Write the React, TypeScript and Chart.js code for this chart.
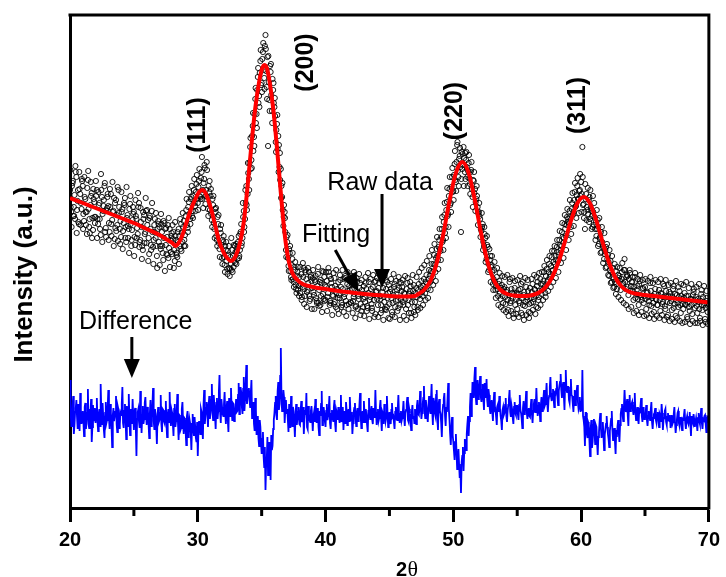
import React, { useEffect, useRef } from "react";
import { Chart, registerables } from "chart.js";
Chart.register(...registerables);

// 2θ grid of the raw scan: set A at 20.000 + 0.1 i, set C at 20.025 + 0.1 i, set B at 20.050 + 0.1 i
const scanStartA = 20;
const scanStartC = 20.025;
const scanStartB = 20.05;
const scanStep = 0.1;
const majorTicks = [20, 30, 40, 50, 60, 70];
const minorTicks = [25, 35, 45, 55, 65];

// Raw data (a.u.), set A
const rawIntensityA = [
  318, 296, 325, 301, 289, 331, 307, 284, 314, 299,
  322, 287, 309, 296, 328, 281, 303, 315, 278, 306,
  291, 318, 284, 305, 273, 311, 297, 322, 280, 300,
  302, 276, 314, 288, 297, 269, 308, 283, 318, 279,
  271, 299, 285, 310, 266, 293, 279, 304, 262, 288,
  296, 263, 289, 274, 305, 268, 281, 258, 293, 276,
  265, 288, 254, 279, 297, 261, 283, 270, 252, 287,
  281, 259, 276, 248, 285, 263, 271, 250, 279, 256,
  254, 276, 247, 268, 251, 279, 262, 284, 266, 287,
  273, 298, 280, 306, 289, 311, 297, 318, 302, 324,
  305, 327, 311, 336, 318, 329, 304, 346, 299, 316,
  312, 288, 303, 279, 296, 268, 284, 259, 275, 250,
  266, 243, 258, 239, 253, 232, 244, 258, 241, 262,
  264, 249, 272, 258, 284, 270, 297, 289, 322, 314,
  329, 361, 348, 382, 371, 409, 394, 431, 412, 447,
  425, 456, 430, 473, 421, 362, 408, 436, 397, 418,
  401, 366, 384, 372, 341, 339, 311, 282, 296, 258,
  266, 242, 255, 231, 249, 226, 238, 219, 236, 222,
  215, 234, 221, 240, 212, 229, 218, 236, 209, 227,
  230, 213, 226, 207, 234, 218, 203, 225, 214, 231,
  208, 227, 215, 232, 205, 221, 212, 230, 201, 219,
  226, 210, 221, 203, 229, 214, 207, 224, 199, 218,
  205, 223, 211, 228, 202, 216, 209, 225, 197, 214,
  222, 206, 219, 200, 226, 211, 204, 221, 208, 194,
  217, 203, 225, 209, 198, 220, 206, 228, 201, 215,
  204, 219, 196, 213, 224, 207, 218, 200, 226, 209,
  221, 203, 214, 199, 225, 208, 217, 195, 212, 223,
  206, 220, 201, 224, 209, 227, 212, 229, 215, 233,
  219, 238, 226, 244, 231, 253, 236, 259, 248, 268,
  257, 279, 268, 293, 281, 306, 294, 319, 305, 331,
  317, 344, 326, 363, 331, 352, 276, 339, 361, 336,
  348, 331, 345, 324, 338, 311, 327, 319, 309, 301,
  296, 289, 277, 284, 262, 270, 249, 261, 238, 252,
  243, 224, 238, 218, 231, 212, 227, 209, 223, 205,
  221, 204, 218, 198, 226, 207, 215, 194, 220, 209,
  199, 218, 205, 224, 193, 213, 202, 221, 208, 196,
  220, 205, 224, 209, 218, 201, 226, 211, 229, 214,
  224, 236, 215, 239, 228, 244, 234, 251, 238, 257,
  252, 261, 247, 268, 258, 276, 265, 284, 272, 291,
  289, 297, 281, 305, 296, 316, 302, 322, 309, 318,
  326, 361, 304, 279, 314, 298, 308, 289, 297, 281,
  283, 279, 272, 288, 264, 271, 256, 262, 249, 258,
  241, 253, 232, 247, 226, 240, 221, 237, 219, 233,
  232, 218, 236, 225, 249, 219, 233, 213, 238, 222,
  226, 208, 231, 214, 222, 203, 227, 211, 219, 205,
  221, 199, 216, 207, 225, 202, 212, 196, 219, 208,
  203, 218, 197, 214, 206, 222, 199, 211, 193, 216,
  214, 198, 219, 204, 192, 213, 201, 217, 195, 209,
  199, 215, 203, 191, 212, 197, 209, 194, 216, 200,
  211, 195, 206, 190, 214, 198, 203, 189, 210, 196,
  204,
];

// Raw data (a.u.), set B
const rawIntensityB = [
  301, 322, 292, 313, 336, 298, 286, 319, 305, 327,
  294, 311, 283, 320, 299, 275, 312, 290, 309, 285,
  312, 289, 303, 279, 318, 294, 308, 276, 297, 314,
  285, 301, 272, 296, 310, 280, 293, 267, 301, 287,
  296, 277, 303, 281, 290, 270, 299, 284, 278, 294,
  271, 292, 280, 301, 266, 286, 262, 289, 274, 297,
  283, 270, 292, 258, 276, 268, 289, 262, 279, 266,
  262, 284, 255, 270, 279, 254, 283, 260, 268, 275,
  269, 258, 272, 255, 266, 272, 259, 275, 281, 268,
  292, 283, 301, 294, 309, 292, 312, 305, 316, 309,
  321, 312, 330, 309, 325, 340, 318, 311, 322, 298,
  294, 309, 285, 299, 272, 291, 265, 279, 263, 268,
  251, 262, 247, 257, 240, 251, 238, 252, 247, 256,
  256, 266, 252, 276, 265, 291, 281, 305, 298, 335,
  345, 339, 372, 357, 394, 385, 418, 405, 435, 423,
  449, 438, 462, 437, 451, 426, 442, 413, 429, 405,
  392, 378, 359, 363, 328, 322, 298, 303, 276, 271,
  250, 259, 237, 243, 229, 241, 223, 232, 218, 231,
  224, 211, 231, 219, 238, 216, 225, 207, 233, 220,
  216, 228, 210, 222, 205, 226, 212, 237, 209, 223,
  221, 211, 236, 207, 225, 213, 204, 222, 215, 210,
  213, 228, 205, 219, 211, 232, 203, 217, 222, 206,
  219, 207, 214, 201, 226, 212, 220, 204, 218, 209,
  211, 225, 202, 215, 208, 219, 197, 213, 226, 216,
  209, 220, 212, 203, 216, 211, 199, 219, 210, 223,
  216, 210, 205, 221, 201, 214, 208, 220, 203, 217,
  206, 215, 209, 219, 203, 214, 222, 206, 217, 201,
  215, 211, 218, 213, 221, 216, 222, 219, 226, 224,
  229, 232, 237, 236, 244, 243, 250, 252, 261, 259,
  271, 266, 286, 275, 298, 292, 312, 303, 321, 316,
  333, 328, 346, 337, 349, 341, 356, 343, 350, 329,
  341, 337, 330, 336, 319, 328, 315, 306, 312, 295,
  292, 279, 281, 266, 274, 255, 263, 244, 248, 241,
  236, 229, 226, 222, 219, 224, 215, 220, 212, 219,
  211, 216, 208, 213, 205, 219, 210, 214, 203, 215,
  214, 207, 219, 210, 203, 216, 206, 211, 217, 204,
  210, 216, 206, 219, 212, 222, 208, 217, 224, 218,
  227, 221, 232, 226, 236, 231, 242, 237, 246, 244,
  248, 256, 253, 263, 262, 271, 270, 279, 283, 286,
  285, 291, 299, 293, 308, 301, 313, 309, 317, 312,
  314, 303, 296, 309, 301, 294, 311, 300, 292, 296,
  291, 286, 279, 281, 270, 276, 266, 260, 254, 261,
  249, 246, 238, 236, 231, 229, 226, 224, 228, 230,
  227, 229, 224, 238, 226, 231, 221, 229, 217, 226,
  217, 221, 210, 218, 209, 224, 213, 208, 220, 212,
  209, 215, 211, 203, 217, 210, 205, 214, 209, 203,
  213, 208, 215, 204, 211, 202, 217, 206, 212, 205,
  207, 211, 200, 214, 208, 205, 211, 203, 212, 204,
  210, 204, 212, 206, 201, 209, 203, 213, 205, 208,
  202, 209, 199, 207, 203, 211, 205, 200, 207, 202,
];

// Raw data (a.u.), set C
const rawIntensityC = [
  338, 281, 327, 292, 342, 275, 318, 336, 283, 329,
  279, 331, 296, 274, 337, 289, 326, 270, 319, 291,
  327, 270, 316, 289, 334, 266, 302, 325, 271, 311,
  268, 319, 284, 326, 262, 305, 277, 321, 295, 264,
  316, 259, 305, 270, 321, 282, 255, 312, 268, 301,
  252, 308, 270, 315, 261, 300, 249, 296, 265, 310,
  298, 247, 290, 263, 305, 244, 276, 295, 240, 284,
  243, 294, 262, 287, 237, 280, 253, 290, 241, 272,
  283, 240, 286, 253, 276, 244, 289, 257, 295, 262,
  262, 309, 276, 316, 284, 322, 290, 329, 297, 333,
  298, 339, 309, 351, 300, 343, 312, 338, 292, 327,
  319, 281, 312, 270, 300, 262, 293, 251, 283, 244,
  272, 236, 266, 234, 262, 239, 270, 236, 263, 245,
  244, 262, 250, 274, 262, 305, 276, 318, 303, 345,
  318, 370, 340, 395, 362, 420, 380, 440, 401, 458,
  416, 465, 419, 459, 409, 452, 397, 444, 385, 425,
  410, 356, 393, 336, 355, 310, 325, 291, 290, 251,
  273, 237, 262, 228, 255, 221, 246, 215, 241, 212,
  241, 208, 245, 204, 236, 201, 240, 212, 231, 199,
  238, 199, 232, 205, 241, 202, 228, 196, 236, 207,
  236, 197, 240, 203, 229, 193, 235, 206, 238, 199,
  194, 233, 201, 238, 196, 230, 192, 236, 204, 229,
  232, 195, 236, 190, 230, 199, 234, 193, 228, 201,
  192, 231, 197, 235, 189, 229, 200, 233, 191, 227,
  230, 191, 234, 195, 228, 188, 232, 198, 226, 190,
  189, 229, 193, 234, 191, 227, 197, 231, 188, 225,
  228, 192, 232, 188, 230, 195, 226, 190, 233, 196,
  193, 231, 198, 236, 200, 240, 203, 243, 208, 247,
  210, 252, 218, 258, 223, 264, 227, 271, 239, 279,
  248, 291, 258, 305, 270, 320, 281, 331, 296, 340,
  308, 357, 317, 366, 322, 360, 329, 354, 322, 355,
  356, 322, 353, 314, 346, 301, 336, 297, 322, 283,
  305, 271, 295, 258, 281, 246, 272, 236, 259, 226,
  252, 218, 246, 210, 240, 203, 235, 201, 232, 198,
  231, 196, 233, 192, 229, 197, 230, 190, 227, 194,
  228, 191, 232, 195, 226, 188, 230, 193, 228, 190,
  195, 229, 198, 233, 194, 231, 200, 235, 203, 236,
  208, 242, 211, 248, 217, 252, 221, 257, 226, 262,
  230, 268, 236, 277, 245, 285, 250, 293, 258, 299,
  268, 308, 274, 315, 282, 325, 290, 330, 295, 334,
  296, 331, 290, 324, 288, 320, 286, 318, 279, 312,
  305, 268, 298, 262, 290, 255, 281, 245, 275, 240,
  264, 233, 258, 225, 252, 220, 244, 214, 241, 211,
  240, 208, 245, 205, 238, 203, 232, 199, 235, 201,
  231, 195, 235, 197, 229, 193, 233, 196, 228, 192,
  229, 193, 227, 190, 231, 194, 225, 189, 228, 192,
  226, 190, 229, 193, 224, 188, 228, 191, 223, 187,
  225, 189, 222, 186, 227, 190, 221, 187, 224, 185,
  223, 186, 226, 189, 220, 184, 224, 187, 219, 185,
  221, 185, 224, 187, 218, 183, 222, 186, 217, 184,
];

// Fitted profile (2θ, a.u.)
const fitTheta = [
  20, 21, 22, 23, 24, 25, 26, 27, 27.5, 28, 28.25, 28.5, 28.8, 29.1, 29.5, 29.85,
  30.1, 30.35, 30.6, 31, 31.3, 31.65, 32, 32.3, 32.6, 33, 33.3, 33.6, 33.9, 34.2,
  34.5, 34.8, 35, 35.2, 35.4, 35.6, 35.9, 36.2, 36.5, 36.8, 37.1, 37.4, 37.8, 38.2,
  39, 40, 41, 42, 43, 44, 45, 46, 47, 47.2, 47.7, 48.2, 48.7, 49.2, 49.7, 50.2,
  50.7, 51.2, 51.7, 52.2, 52.7, 53.2, 53.7, 54.2, 54.7, 55.2, 55.7, 56.2, 56.7,
  57.2, 57.7, 58.2, 58.7, 59.2, 59.7, 60.2, 60.7, 61.2, 61.7, 62.2, 62.7, 63.2,
  63.7, 64.2, 65, 66, 67, 68, 69, 70,
];
const fitIntensity = [
  310, 305, 300, 295, 290, 285, 279, 273, 269, 265, 262, 265, 273, 285, 300, 310,
  316, 318, 315, 301, 286, 268, 256, 250, 247, 253, 265, 286, 322, 363,
  400, 426, 438, 443, 440, 428, 400, 360, 315, 274, 248, 235, 228, 224,
  221, 219, 217, 215.5, 214, 213, 212, 211.5, 212, 213.5, 218, 227, 245, 273, 307, 335,
  346, 335, 307, 273, 245, 227, 218, 214, 212.5, 212, 212, 213, 215.5,
  220.5, 230, 245, 265, 287, 304.5, 311, 304.5, 287, 265, 245, 230, 221,
  216.5, 214.5, 213, 211.5, 210, 208.5, 207, 205.5,
];

// Difference (raw - fit, offset), set A
const diffIntensityA = [
  128, 82, 101, 74, 96, 108, 79, 93, 115, 84,
  97, 72, 105, 88, 119, 80, 94, 66, 103, 91,
  85, 110, 77, 99, 124, 83, 92, 70, 106, 88,
  118, 79, 95, 61, 100, 87, 112, 76, 98, 84,
  93, 121, 80, 104, 69, 95, 114, 73, 90, 109,
  78, 100, 52, 96, 86, 117, 75, 102, 89, 111,
  83, 97, 70, 108, 91, 120, 79, 94, 64, 101,
  88, 113, 76, 98, 85, 107, 71, 99, 116, 82,
  95, 72, 104, 87, 114, 68, 92, 80, 106, 74,
  89, 63, 97, 78, 85, 58, 94, 72, 81, 66,
  52, 87, 74, 96, 69, 118, 92, 106, 81, 112,
  95, 124, 88, 103, 79, 110, 97, 133, 85, 101,
  92, 116, 84, 107, 76, 99, 120, 88, 104, 93,
  109, 97, 125, 102, 116, 94, 131, 108, 143, 112,
  120, 101, 128, 96, 84, 110, 73, 92, 62, 81,
  54, 76, 41, 18, 49, 33, 66, 28, 58, 79,
  95, 112, 88, 126, 104, 160, 97, 118, 85, 108,
  99, 76, 93, 112, 82, 97, 71, 104, 89, 101,
  83, 107, 90, 74, 98, 115, 79, 94, 86, 102,
  77, 96, 109, 85, 100, 73, 92, 117, 88, 95,
  81, 104, 92, 112, 79, 98, 87, 108, 76, 94,
  101, 85, 113, 90, 78, 97, 106, 83, 99, 111,
  88, 74, 96, 105, 82, 100, 91, 115, 80, 97,
  107, 86, 93, 76, 110, 89, 102, 84, 95, 118,
  83, 99, 90, 108, 77, 94, 104, 87, 112, 81,
  96, 84, 105, 92, 79, 101, 88, 113, 85, 97,
  90, 107, 82, 98, 111, 86, 95, 78, 103, 92,
  99, 84, 108, 93, 117, 89, 104, 122, 90, 101,
  86, 112, 95, 124, 83, 106, 92, 118, 78, 109,
  94, 71, 103, 115, 82, 96, 125, 88, 63, 91,
  66, 48, 74, 39, 59, 30, 15, 52, 37, 69,
  58, 84, 72, 101, 92, 126, 110, 141, 104, 128,
  119, 132, 106, 124, 98, 117, 129, 101, 113, 94,
  108, 87, 116, 99, 83, 104, 112, 92, 78, 101,
  95, 110, 86, 103, 118, 91, 99, 84, 106, 93,
  102, 88, 113, 95, 80, 107, 97, 117, 89, 100,
  91, 109, 85, 104, 96, 120, 92, 106, 87, 111,
  98, 118, 104, 125, 96, 112, 131, 107, 119, 101,
  114, 127, 103, 122, 134, 110, 126, 98, 138, 116,
  121, 105, 129, 112, 96, 118, 108, 123, 99, 111,
  101, 138, 88, 62, 95, 70, 84, 52, 88, 66,
  89, 64, 81, 53, 76, 95, 70, 86, 58, 79,
  92, 74, 61, 83, 97, 68, 80, 54, 71, 88,
  66, 94, 104, 87, 118, 96, 109, 82, 113, 99,
  106, 93, 115, 88, 101, 84, 97, 110, 86, 95,
  91, 103, 82, 97, 88, 106, 79, 94, 100, 85,
  96, 81, 92, 104, 78, 90, 99, 83, 95, 87,
  80, 93, 86, 101, 75, 89, 97, 82, 91, 78,
  88, 99, 79, 92, 84, 96, 72, 87, 94, 81,
  90, 77, 95, 84, 100, 79, 88, 93, 76, 91,
  89,
];

// Difference (raw - fit, offset), set B
const diffIntensityB = [
  96, 88, 112, 83, 100, 91, 104, 77, 98, 92,
  86, 101, 79, 95, 84, 99, 109, 81, 87, 100,
  98, 87, 93, 82, 96, 105, 78, 95, 85, 101,
  90, 104, 82, 93, 87, 96, 84, 101, 80, 95,
  104, 85, 97, 88, 102, 82, 89, 99, 84, 92,
  96, 81, 89, 99, 80, 97, 91, 84, 105, 93,
  101, 84, 95, 82, 103, 87, 99, 81, 92, 86,
  95, 84, 99, 87, 96, 83, 94, 86, 90, 98,
  84, 99, 81, 96, 85, 93, 78, 99, 84, 90,
  77, 92, 71, 89, 75, 84, 79, 91, 70, 86,
  76, 82, 99, 80, 103, 84, 100, 94, 103, 89,
  108, 97, 113, 92, 105, 89, 116, 96, 109, 94,
  104, 95, 100, 88, 110, 92, 97, 105, 87, 99,
  96, 113, 94, 121, 101, 119, 97, 124, 104, 118,
  108, 115, 90, 106, 77, 98, 83, 70, 88, 65,
  69, 52, 61, 43, 71, 45, 56, 73, 62, 88,
  105, 93, 117, 98, 132, 110, 101, 111, 99, 94,
  88, 104, 80, 95, 101, 86, 92, 83, 96, 84,
  97, 86, 101, 89, 93, 81, 102, 88, 97, 91,
  92, 86, 95, 99, 81, 97, 104, 83, 101, 86,
  97, 88, 99, 85, 94, 90, 101, 84, 97, 88,
  90, 98, 86, 101, 92, 85, 97, 93, 87, 96,
  96, 85, 100, 89, 95, 87, 103, 92, 90, 86,
  94, 99, 83, 97, 92, 96, 88, 100, 90, 96,
  93, 87, 101, 89, 96, 84, 97, 91, 95, 89,
  88, 98, 91, 86, 96, 89, 99, 92, 94, 87,
  97, 91, 95, 104, 88, 99, 87, 96, 90, 85,
  91, 102, 94, 99, 102, 95, 110, 97, 108, 94,
  101, 99, 108, 97, 110, 95, 113, 88, 104, 97,
  85, 95, 109, 92, 101, 110, 99, 74, 80, 73,
  57, 66, 55, 49, 44, 38, 46, 61, 55, 63,
  74, 92, 87, 115, 105, 118, 130, 112, 122, 109,
  123, 111, 118, 109, 125, 110, 108, 119, 100, 106,
  96, 106, 98, 91, 102, 96, 100, 87, 98, 93,
  103, 92, 97, 109, 96, 103, 90, 101, 95, 102,
  94, 103, 98, 89, 100, 94, 104, 95, 98, 92,
  100, 94, 97, 109, 101, 103, 97, 99, 103, 97,
  110, 102, 113, 105, 108, 121, 111, 114, 109, 115,
  119, 111, 117, 126, 118, 121, 112, 125, 119, 121,
  108, 117, 113, 104, 111, 103, 117, 106, 102, 96,
  97, 92, 81, 95, 74, 86, 68, 79, 60, 83,
  75, 83, 66, 71, 87, 80, 77, 72, 73, 84,
  81, 69, 77, 89, 78, 74, 66, 78, 82, 75,
  83, 99, 92, 101, 104, 100, 93, 106, 97, 104,
  98, 102, 96, 95, 90, 98, 103, 92, 101, 89,
  96, 88, 92, 91, 98, 86, 90, 95, 88, 93,
  89, 94, 86, 95, 88, 97, 86, 91, 88, 93,
  87, 84, 94, 86, 83, 95, 85, 90, 84, 89,
  93, 85, 89, 86, 90, 84, 92, 85, 89, 86,
  84, 90, 87, 92, 85, 89, 92, 84, 90, 86,
];

// Peak indices and annotations
const hklLabels = ["(111)", "(200)", "(220)", "(311)"];
const hklTheta = [29.99, 38.47, 50.17, 59.74];
const hklIntensity = [383, 445.5, 397, 402.5];
const noteTexts = ["Raw data", "Fitting", "Difference"];
const noteTheta = [40.14, 38.16, 20.7];
const noteIntensity = [318, 266.3, 179];
const arrowFrom = [[44.42, 314], [40.76, 258], [24.84, 171]];
const arrowTo = [[44.42, 220], [42.59, 216], [24.84, 130]];

const SANS = "'Liberation Sans', Arial, Helvetica, sans-serif";
const SERIF = "'Liberation Serif', 'Times New Roman', serif";

function gridPoints(values: number[], start: number) {
  return values.map((v, i) => ({ x: start + i * scanStep, y: v }));
}

function mergeScan(a: number[], b: number[]) {
  const pts: { x: number; y: number }[] = [];
  a.forEach((v, i) => {
    pts.push({ x: scanStartA + i * scanStep, y: v });
    if (i < b.length) pts.push({ x: scanStartB + i * scanStep, y: b[i] });
  });
  return pts;
}

function drawArrow(ctx: CanvasRenderingContext2D, x1: number, y1: number, x2: number, y2: number) {
  const ang = Math.atan2(y2 - y1, x2 - x1);
  const headLen = 19;
  const headHalf = 8;
  const bx = x2 - headLen * Math.cos(ang);
  const by = y2 - headLen * Math.sin(ang);
  ctx.beginPath();
  ctx.moveTo(x1, y1);
  ctx.lineTo(bx, by);
  ctx.lineWidth = 3;
  ctx.stroke();
  ctx.beginPath();
  ctx.moveTo(x2, y2);
  ctx.lineTo(bx + headHalf * Math.sin(ang), by - headHalf * Math.cos(ang));
  ctx.lineTo(bx - headHalf * Math.sin(ang), by + headHalf * Math.cos(ang));
  ctx.closePath();
  ctx.fill();
}

const decorPlugin = {
  id: "decor",
  afterDraw(chart: any) {
    const { ctx, chartArea: a, scales } = chart;
    const xs = scales.x;
    const ys = scales.y;
    ctx.save();
    ctx.strokeStyle = "#000";
    ctx.fillStyle = "#000";
    ctx.lineWidth = 3;
    ctx.beginPath();
    ctx.moveTo(a.left - 1.5, a.top);
    ctx.lineTo(a.right, a.top);
    ctx.lineTo(a.right, a.bottom + 1.5);
    ctx.stroke();
    minorTicks.forEach((t) => {
      const px = xs.getPixelForValue(t);
      ctx.beginPath();
      ctx.moveTo(px, a.bottom);
      ctx.lineTo(px, a.bottom + 8);
      ctx.stroke();
    });
    ctx.save();
    ctx.translate(32, 274.5);
    ctx.rotate(-Math.PI / 2);
    ctx.font = `bold 26px ${SANS}`;
    ctx.textAlign = "center";
    ctx.textBaseline = "alphabetic";
    ctx.fillText("Intensity (a.u.)", 0, 0);
    ctx.restore();
    ctx.font = `bold 20px ${SANS}`;
    ctx.textAlign = "left";
    ctx.textBaseline = "alphabetic";
    ctx.fillText("2", 396, 575.5);
    ctx.font = `22px ${SERIF}`;
    ctx.fillText("θ", 407.5, 575.5);
    ctx.font = `bold 25px ${SANS}`;
    ctx.textAlign = "center";
    ctx.textBaseline = "middle";
    hklLabels.forEach((lab, i) => {
      ctx.save();
      ctx.translate(xs.getPixelForValue(hklTheta[i]), ys.getPixelForValue(hklIntensity[i]));
      ctx.rotate(-Math.PI / 2);
      ctx.fillText(lab, 0, 0);
      ctx.restore();
    });
    ctx.font = `25px ${SANS}`;
    ctx.textAlign = "left";
    ctx.textBaseline = "alphabetic";
    noteTexts.forEach((t, i) => {
      ctx.fillText(t, xs.getPixelForValue(noteTheta[i]), ys.getPixelForValue(noteIntensity[i]));
    });
    arrowFrom.forEach((f, i) => {
      drawArrow(
        ctx,
        xs.getPixelForValue(f[0]),
        ys.getPixelForValue(f[1]),
        xs.getPixelForValue(arrowTo[i][0]),
        ys.getPixelForValue(arrowTo[i][1])
      );
    });
    ctx.restore();
  },
};

export default function App() {
  const ref = useRef<HTMLCanvasElement | null>(null);
  useEffect(() => {
    if (!ref.current) return;
    const rawPts = [
      ...gridPoints(rawIntensityA, scanStartA),
      ...gridPoints(rawIntensityC, scanStartC),
      ...gridPoints(rawIntensityB, scanStartB),
    ];
    const diffPts = mergeScan(diffIntensityA, diffIntensityB);
    const fitPts = fitTheta.map((t, i) => ({ x: t, y: fitIntensity[i] }));
    const chart = new Chart(ref.current, {
      type: "scatter",
      data: {
        datasets: [
          {
            label: "Fitting",
            data: fitPts,
            showLine: true,
            borderColor: "#ff0000",
            borderWidth: 4,
            pointRadius: 0,
            cubicInterpolationMode: "monotone",
            order: 1,
          } as any,
          {
            label: "Raw data",
            data: rawPts,
            showLine: false,
            pointStyle: "circle",
            pointRadius: 2.6,
            pointBorderWidth: 0.9,
            pointBorderColor: "#000",
            pointBackgroundColor: "rgba(0,0,0,0)",
            borderColor: "#000",
            backgroundColor: "rgba(0,0,0,0)",
            order: 2,
          } as any,
          {
            label: "Difference",
            data: diffPts,
            showLine: true,
            borderColor: "#0000ff",
            borderWidth: 1.8,
            pointRadius: 0,
            tension: 0,
            order: 0,
          } as any,
        ],
      },
      options: {
        animation: false,
        responsive: false,
        events: [],
        layout: { padding: { left: 0, top: 15, right: 13, bottom: 0 } },
        plugins: { legend: { display: false }, tooltip: { enabled: false }, title: { display: false } },
        scales: {
          x: {
            type: "linear",
            position: "bottom",
            min: 20,
            max: 70,
            afterFit: (s: any) => {
              s.height = 69;
            },
            afterBuildTicks: (s: any) => {
              s.ticks = majorTicks.map((v) => ({ value: v }));
            },
            ticks: {
              stepSize: 10,
              color: "#000",
              font: { family: SANS, size: 20, weight: "bold" },
              padding: 6,
              maxRotation: 0,
              autoSkip: false,
            },
            grid: {
              drawOnChartArea: false,
              drawTicks: true,
              tickLength: 14,
              tickWidth: 3,
              tickColor: "#000",
            },
            border: { display: true, color: "#000", width: 3 },
          },
          y: {
            type: "linear",
            position: "left",
            min: 0,
            max: 493,
            afterFit: (s: any) => {
              s.width = 70;
            },
            ticks: { display: false },
            grid: { display: true, drawOnChartArea: false, drawTicks: false },
            border: { display: true, color: "#000", width: 3 },
          },
        },
      },
      plugins: [decorPlugin],
    });
    return () => chart.destroy();
  }, []);
  return (
    <canvas
      ref={ref}
      width={726}
      height={577}
      style={{ position: "fixed", left: 0, top: 0, width: 726, height: 577, background: "#fff" }}
    />
  );
}
